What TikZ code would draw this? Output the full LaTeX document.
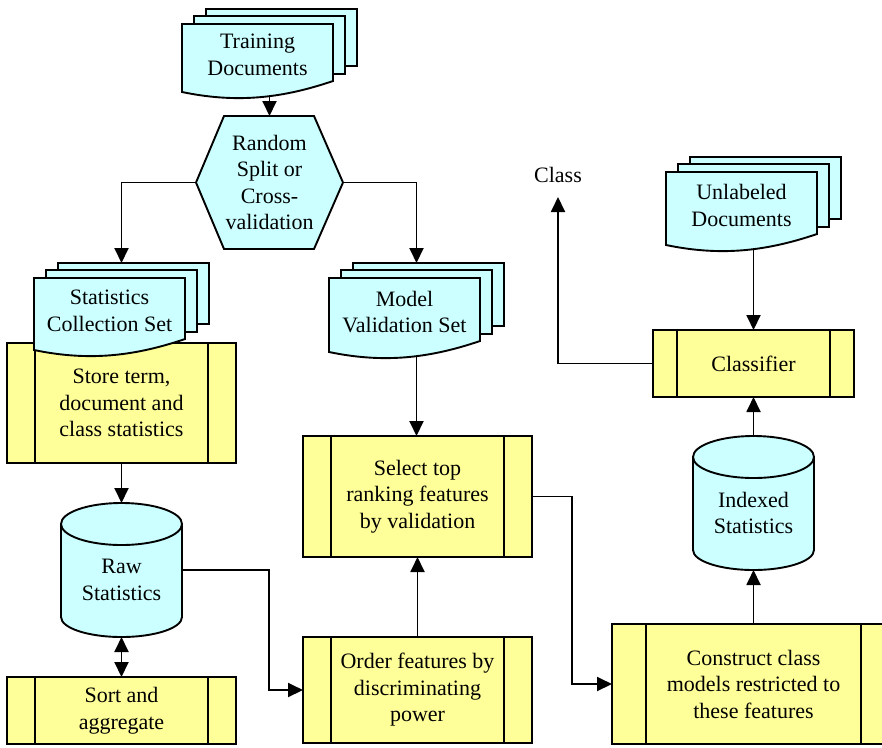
\documentclass[tikz,border=0pt]{standalone}
\usepackage{fontspec}
\setmainfont{Liberation Serif}
\usetikzlibrary{arrows.meta,backgrounds,calc}
\definecolor{cfill}{HTML}{CCFFFF}
\definecolor{yfill}{HTML}{FFFF99}
\newcommand{\mainsz}{\fontsize{22}{26.5}\selectfont}
\tikzset{
  lw/.style={line width=1.9pt},
  shp/.style={draw, line width=1.9pt, fill=cfill},
  arr/.style={line width=1.9pt, -{Triangle[length=15pt,width=14pt]}},
  dblarr/.style={line width=1.9pt, {Triangle[length=15pt,width=14pt]}-{Triangle[length=15pt,width=14pt]}},
  txt/.style={align=center, inner sep=0pt, outer sep=0pt, font=\mainsz},
  docpage/.style={draw, line width=1.9pt, fill=cfill},
  procside/.store in=\procside, procside=28,
  proc/.style={draw, line width=1.9pt, fill=yfill, align=center, inner sep=0pt, outer sep=0pt, font=\mainsz,
    path picture={\draw[line width=1.9pt]
      ([xshift=\procside pt]path picture bounding box.north west) -- ([xshift=\procside pt]path picture bounding box.south west)
      ([xshift=-\procside pt]path picture bounding box.north east) -- ([xshift=-\procside pt]path picture bounding box.south east);}},
}
% #1 name, #2 left x, #3 top y, #4 bottom-left y, #5 text
\newcommand{\docstack}[5]{%
  \pgfmathsetmacro{\dxa}{#2}\pgfmathsetmacro{\dxb}{#2+151}%
  \pgfmathsetmacro{\dya}{#3}\pgfmathsetmacro{\dyb}{#4}%
  \draw[docpage] ({\dxa+24},{\dya-15}) rectangle ({\dxb+24},{\dyb-26});
  \draw[docpage] ({\dxa+12},{\dya-8}) rectangle ({\dxb+12},{\dyb-18});
  \draw[docpage] (\dxa,\dya) -- (\dxb,\dya) -- (\dxb,{\dyb-11})
     .. controls ({\dxa+0.65*151},{\dyb+7}) and ({\dxa+0.35*151},{\dyb+11}) .. (\dxa,\dyb) -- cycle;
  \node[txt] (#1) at ({\dxa+75.5},{(\dya+\dyb)/2-3}) {#5};
  \coordinate (#1-in) at ({\dxa+87.5},{\dya-15});
  \coordinate (#1-out) at ({\dxa+87.5},{\dyb+3});
}
% #1 name, #2 cx, #3 cy, #4 text
\newcommand{\cylnode}[4]{%
  \node[minimum width=121, minimum height=134, inner sep=0pt, outer sep=0pt] (#1) at (#2,#3) {};
  \begin{scope}[on background layer]
    \draw[shp] ([yshift=-21pt]#1.north west) -- ([yshift=20pt]#1.south west)
      arc[start angle=180,end angle=360,x radius=60.5pt,y radius=20pt]
      -- ([yshift=-21pt]#1.north east)
      arc[start angle=0,end angle=180,x radius=60.5pt,y radius=21pt] -- cycle;
    \draw[lw] ([yshift=-21pt]#1.north west) arc[start angle=180,end angle=360,x radius=60.5pt,y radius=21pt];
  \end{scope}
  \node[txt] (#1txt) at ([yshift=-10pt]#1.center) {#4};
}
\begin{document}
\begin{tikzpicture}[x=1pt,y=-1pt]
\useasboundingbox (0,0) rectangle (882,747);
\clip (0,0) rectangle (882,747);

% process boxes
\node[proc, minimum width=229, minimum height=120] (store) at (121.5,403) {Store term,\\document and\\class statistics};
\node[proc, minimum width=229, minimum height=67] (sort) at (121.5,710.5) {Sort and\\aggregate};
\node[proc, minimum width=229, minimum height=121] (select) at (417.5,496.5) {Select top\\ranking features\\by validation};
\node[proc, minimum width=229, minimum height=106] (order) at (417.5,690) {Order features by\\discriminating\\power};
\node[proc, procside=34, minimum width=283, minimum height=120] (construct) at (753.5,684) {Construct class\\models restricted to\\these features};
\node[proc, procside=24, minimum width=201, minimum height=67] (classifier) at (753.5,363.5) {Classifier};

% document stacks
\docstack{train}{182}{24}{92}{Training\\Documents}
\docstack{stats}{34}{278}{350}{Statistics\\Collection Set}
\docstack{model}{329}{278}{352}{Model\\Validation Set}
\docstack{unl}{666}{172}{245}{Unlabeled\\Documents}

% hexagon
\node[txt, minimum width=147, minimum height=133] (hex) at (269.5,182.5) {Random\\Split or\\Cross-\\validation};
\begin{scope}[on background layer]
\draw[shp] (hex.west) -- ([xshift=28pt]hex.north west) -- ([xshift=-29pt]hex.north east) -- (hex.east)
  -- ([xshift=-29pt]hex.south east) -- ([xshift=28pt]hex.south west) -- cycle;
\end{scope}

% cylinders
\cylnode{raw}{121.5}{570}{Raw\\Statistics}
\cylnode{idx}{753.5}{503}{Indexed\\Statistics}

% class label
\node[txt, anchor=south, inner ysep=14pt] (cls) at (558,197) {Class};

% junctions
\coordinate (j1) at (269,600);
\coordinate (j2) at (572,600);

% connectors
\draw[arr] (train-out) -- (hex.north);
\draw[arr] (hex.west) -| (stats-in);
\draw[arr] (hex.east) -| (model-in);
\draw[arr] (model-out) -- (model-out |- select.north);
\draw[arr] (store.south) -- (raw.north);
\draw[dblarr] (raw.south) -- (sort.north);
\draw[arr] (raw.east) -| (j1) |- (order.west);
\draw[arr] (order.north) -- (select.south);
\draw[arr] (select.east) -| (j2) |- (construct.west);
\draw[arr] (construct.north) -- (idx.south);
\draw[arr] (idx.north) -- (classifier.south);
\draw[arr] (unl-out) -- (classifier.north);
\draw[arr] (classifier.west) -| (cls.south);
\end{tikzpicture}
\end{document}
